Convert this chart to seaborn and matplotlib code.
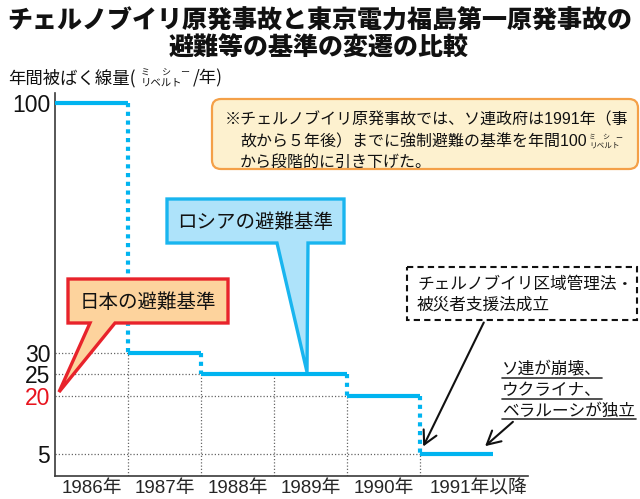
import numpy as np
import pandas as pd
import matplotlib
matplotlib.use("Agg")
import matplotlib.pyplot as plt
import seaborn as sns
from matplotlib.patches import Polygon, FancyBboxPatch, Rectangle, FancyArrowPatch
from matplotlib.lines import Line2D
from matplotlib.transforms import Affine2D

# ---------------- data ----------------
years = ["1986年", "1987年", "1988年", "1989年", "1990年", "1991年以降"]
dose = [100, 30, 25, 25, 20, 5]
ytick_vals = [5, 20, 25, 30, 100]
ytick_labels = ["5", "20", "25", "30", "100"]
ytick_colors = ["#111111", "#e8141e", "#111111", "#111111", "#111111"]
title_lines = ["チェルノブイリ原発事故と東京電力福島第一原発事故の", "避難等の基準の変遷の比較"]
ylabel_main = "年間被ばく線量("
ylabel_end = "/年)"
unit_top = ["ミ", "シ", "ー"]
unit_bottom = "リベルト"
note_lines = ["※チェルノブイリ原発事故では、ソ連政府は1991年（事",
              "故から５年後）までに強制避難の基準を年間100",
              "から段階的に引き下げた。"]
russia_label = "ロシアの避難基準"
japan_label = "日本の避難基準"
law_lines = ["チェルノブイリ区域管理法・", "被災者支援法成立"]
ussr_lines = ["ソ連が崩壊、", "ウクライナ、", "ベラルーシが独立"]

# ---------------- style ----------------
sns.set_style("white")
plt.rcParams["font.family"] = ["Liberation Sans", "Noto Sans CJK JP", "DejaVu Sans"]
CJK = ["Noto Sans CJK JP", "DejaVu Sans"]
CYAN = "#00b4f0"
GREY = "#666666"

W, H = 640, 499
fig = plt.figure(figsize=(W / 100, H / 100), dpi=100)
fig.patch.set_facecolor("white")
T = Affine2D().scale(1, -1).translate(0, H)  # pixel coords, y from top

ax = fig.add_axes([55 / W, (H - 476) / H, 473 / W, 383 / H])

# non-uniform vertical scale as in the reference
_v = [0, 5, 20, 25, 30, 100, 120]
_p = [0, 22, 80, 102, 123, 373, 444]
def fwd(v):
    return np.interp(v, _v, _p)
def inv(p):
    return np.interp(p, _p, _v)
ax.set_yscale("function", functions=(fwd, inv))

# step segments
rows = []
for i, v in enumerate(dose):
    rows.append(dict(x=i, y=v, seg=i))
    rows.append(dict(x=i + 1, y=v, seg=i))
df = pd.DataFrame(rows)
sns.lineplot(data=df, x="x", y="y", units="seg", estimator=None, color=CYAN,
             lw=3.0, ax=ax, legend=False, zorder=3, solid_capstyle="butt")

# dotted cyan connectors
for i in range(len(dose) - 1):
    if dose[i] != dose[i + 1]:
        ax.plot([i + 1, i + 1], [dose[i], dose[i + 1]], color=CYAN, lw=3.0,
                ls=(0, (1, 1.1)), zorder=3)

# grey dotted guides
seen = set()
for i, v in enumerate(dose):
    if i > 0 and v not in seen:
        ax.plot([0, i], [v, v], color=GREY, lw=0.9, ls=(0, (1, 1.6)), zorder=1)
    seen.add(v)
for i in range(len(dose) - 1):
    ax.plot([i + 1, i + 1], [0, min(dose[i], dose[i + 1])], color=GREY, lw=0.9,
            ls=(0, (1, 1.6)), zorder=1)

ax.set_xlim(0, 473 / 73)
ax.set_ylim(0, inv(383))
ax.set_xlabel("")
ax.set_ylabel("")
ax.set_xticks([0.5, 1.5, 2.5, 3.5, 4.5, 5.8])
ax.set_xticklabels(years, fontsize=13.5)
ax.set_yticks(ytick_vals)
ax.set_yticklabels(ytick_labels, fontsize=16.5)
for lab, c in zip(ax.get_yticklabels(), ytick_colors):
    lab.set_color(c)
ax.tick_params(axis="both", length=0)
ax.tick_params(axis="y", pad=3.5)
ax.tick_params(axis="x", pad=3)
ax.minorticks_off()
for s in ["top", "right"]:
    ax.spines[s].set_visible(False)
for s in ["left", "bottom"]:
    ax.spines[s].set_color("#3a3a3a")
    ax.spines[s].set_linewidth(1.2)
ax.set_facecolor("none")

# ---------------- titles ----------------
fig.text(320, 21, title_lines[0], transform=T, ha="center", va="center",
         fontsize=18, fontweight="black", family=CJK, color="#111111")
fig.text(319, 48, title_lines[1], transform=T, ha="center", va="center",
         fontsize=18, fontweight="black", family=CJK, color="#111111")

# y label with small stacked unit
fig.text(8, 78, ylabel_main, transform=T, ha="left", va="center", fontsize=12.5,
         family=CJK, color="#111111")
for x, s in zip([145, 166, 185], unit_top):
    fig.text(x, 73, s, transform=T, ha="center", va="center", fontsize=6.5,
             family=CJK, color="#111111")
fig.text(141, 83, unit_bottom, transform=T, ha="left", va="center", fontsize=7.5,
         family=CJK, color="#111111")
fig.text(193, 78, ylabel_end, transform=T, ha="left", va="center", fontsize=12.5,
         family=CJK, color="#111111")

# ---------------- note box ----------------
note = FancyBboxPatch((212, 99), 426, 70, boxstyle="round,pad=0,rounding_size=9",
                      transform=T, facecolor="#fdf1cf", edgecolor="#f4a048", lw=1.6,
                      zorder=5)
fig.add_artist(note)
note_pos = [(225, 120), (240, 142), (240, 162)]
for (x, y), s in zip(note_pos, note_lines):
    fig.text(x, y, s, transform=T, ha="left", va="center", fontsize=11.5,
             family=["Liberation Sans", "Noto Sans CJK JP"], color="#111111", zorder=6)
for x, s in zip([592, 606, 619], unit_top):
    fig.text(x, 137, s, transform=T, ha="center", va="center", fontsize=5,
             family=CJK, color="#111111", zorder=6)
fig.text(589, 146, unit_bottom, transform=T, ha="left", va="center", fontsize=5.5,
         family=CJK, color="#111111", zorder=6)

# ---------------- callouts ----------------
russia = Polygon([(167, 199), (344, 199), (344, 243), (308, 243), (307, 372),
                  (277, 243), (167, 243)], closed=True, transform=T,
                 facecolor="#aee3fa", edgecolor="#19b5ef", lw=2.4, joinstyle="miter",
                 zorder=7)
fig.add_artist(russia)
fig.text(255, 222, russia_label, transform=T, ha="center", va="center", fontsize=14,
         family=CJK, color="#111111", zorder=8)

japan = Polygon([(68, 279), (228, 279), (228, 323), (115, 323), (59, 392),
                 (90, 323), (68, 323)], closed=True, transform=T,
                facecolor="#fdd39d", edgecolor="#e8232b", lw=2.4, joinstyle="miter",
                zorder=7)
fig.add_artist(japan)
fig.text(148, 302, japan_label, transform=T, ha="center", va="center", fontsize=14,
         family=CJK, color="#111111", zorder=8)

# ---------------- law box ----------------
law = Rectangle((407, 267), 230, 53, transform=T, facecolor="white",
                edgecolor="#111111", lw=1.5, ls=(0, (3, 2)), zorder=7)
fig.add_artist(law)
for y, s in zip([284, 305], law_lines):
    fig.text(417, y, s, transform=T, ha="left", va="center", fontsize=12,
             family=CJK, color="#111111", zorder=8)

arr1 = FancyArrowPatch((485, 320), (422, 449), transform=T,
                       arrowstyle="->,head_length=0.6,head_width=0.32",
                       mutation_scale=16, lw=1.5, color="#111111", zorder=8)
fig.add_artist(arr1)

# ---------------- USSR text ----------------
for y, s in zip([370, 391, 411], ussr_lines):
    fig.text(502, y, s, transform=T, ha="left", va="center", fontsize=12,
             family=CJK, color="#111111", zorder=8)
for y, x2 in zip([378, 399, 419], [602, 602, 636]):
    fig.add_artist(Line2D([502, x2], [y, y], transform=T, color="#333333", lw=1.2))

arr2 = FancyArrowPatch((515, 420), (483, 448), transform=T,
                       arrowstyle="->,head_length=0.6,head_width=0.32",
                       mutation_scale=16, lw=1.5, color="#111111", zorder=8)
fig.add_artist(arr2)

fig.savefig("out.png", dpi=100)
